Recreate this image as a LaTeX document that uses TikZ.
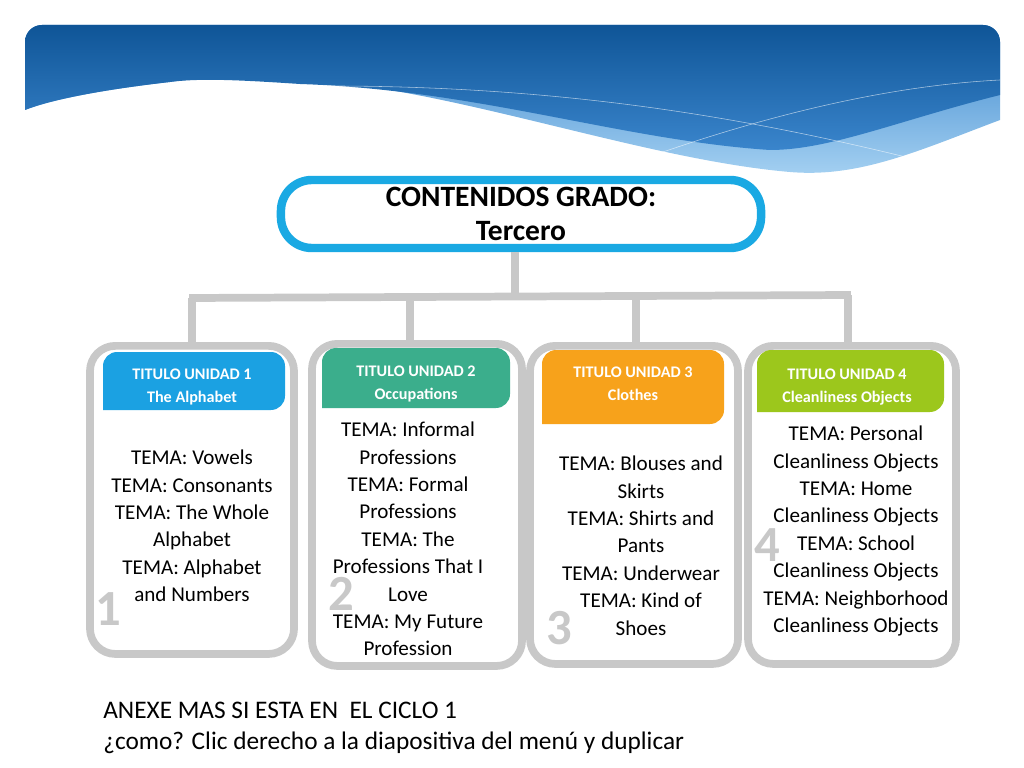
\documentclass[tikz,border=0pt]{standalone}
\usepackage{fontspec}
\setmainfont{Carlito}
\usetikzlibrary{positioning}
\definecolor{cyanline}{HTML}{1AA9E3}
\definecolor{boxgray}{HTML}{C8C8C8}
\definecolor{tabblue}{HTML}{1BA1E2}
\definecolor{tabteal}{HTML}{3BAE8C}
\definecolor{taborange}{HTML}{F7A21B}
\definecolor{tabgreen}{HTML}{9CC71C}
\definecolor{bandark}{HTML}{0F5597}
\definecolor{banmid}{HTML}{3A85CC}
\definecolor{banlight}{HTML}{A6D2F2}
\tikzset{
  unidad/.style={draw=boxgray, line width=5.5pt, rounded corners=18pt, fill=white,
    minimum width=#1, anchor=north},
  tab/.style={text=white, font=\fontsize{11.5}{16}\selectfont\bfseries,
    align=center, anchor=north, inner sep=0pt},
  tema/.style={align=flush center, font=\fontsize{15}{19.5}\selectfont, text width=5.2cm, anchor=north},
  numero/.style={text=boxgray, font=\fontsize{36}{36}\selectfont\bfseries},
  rama/.style={draw=boxgray, line width=5.5pt}
}
\begin{document}
\begin{tikzpicture}[x=0.025cm, y=-0.025cm]
    \useasboundingbox (0,0) rectangle (1024,768);
    % banner
    \begin{scope}
    \clip[rounded corners=12pt] (25,25) rectangle (1000,200);
    \shade[top color=banmid, bottom color=banlight]
        (25,25) -- (1000,25) -- (1000,120) .. controls (920,150) and (860,178) .. (790,172)
        .. controls (650,160) and (470,95) .. (330,82) .. controls (260,76) and (210,76) .. (170,82)
        .. controls (100,90) and (50,100) .. (25,110) -- cycle;
    \shade[top color=bandark, bottom color=banmid]
        (25,25) -- (1000,25) -- (1000,95) .. controls (900,120) and (830,150) .. (770,150)
        .. controls (620,140) and (480,90) .. (300,84) .. controls (240,80) and (200,78) .. (170,82)
        .. controls (100,90) and (50,100) .. (25,110) -- cycle;
    \draw[white, opacity=0.6, thin] (320,86) .. controls (600,85) and (800,130) .. (950,168);
    \draw[white, opacity=0.6, thin] (640,160) .. controls (780,110) and (900,85) .. (1000,80);
    \end{scope}
    % title
    \node[draw=cyanline, line width=6pt, rounded corners=22pt, fill=white, minimum width=12cm,
          minimum height=1.7cm, align=center, font=\fontsize{21}{24}\selectfont\bfseries]
          (titulo) at (521,214) {CONTENIDOS GRADO:\\Tercero};
    % tree
    \coordinate (tronco) at (515,296);
    \coordinate (ramaA) at (192,298);
    \coordinate (ramaB) at (410,297);
    \coordinate (ramaC) at (636,296);
    \coordinate (ramaD) at (848,295);
    \draw[rama] (titulo.south -| tronco) -- (tronco);
    \draw[rama] ([xshift=-2pt]ramaA) -- ([xshift=2pt]ramaD);
    % boxes
    \node[unidad=5.1cm, minimum height=7.7cm] (uno) at (192,342) {};
    \node[unidad=5.25cm, minimum height=8.05cm] (dos) at (417,340) {};
    \node[unidad=5.2cm, minimum height=7.95cm] (tres) at (634,342) {};
    \node[unidad=5.2cm, minimum height=7.95cm] (cuatro) at (852,342) {};
    \foreach \r/\u in {ramaA/uno, ramaB/dos, ramaC/tres, ramaD/cuatro}
        \draw[rama] (\r) -- (\u.north -| \r);
    % tabs
    \fill[tabblue, rounded corners=10pt] (103,410) -- (103,352) -- (285,352) -- (285,410) [sharp corners] -- cycle;
    \fill[tabteal, rounded corners=10pt] (322,408) -- (322,348) -- (510,348) -- (510,408) [sharp corners] -- cycle;
    \fill[taborange, rounded corners=10pt] (542,424) -- (542,350) -- (724,350) -- (724,424) [sharp corners] -- cycle;
    \fill[tabgreen, rounded corners=10pt] (757,412) -- (757,350) -- (944,350) -- (944,412) [sharp corners] -- cycle;
    \node[tab] (tab1) at (192,369) {TITULO UNIDAD 1\\The Alphabet};
    \node[tab] (tab2) at (416,366) {TITULO UNIDAD 2\\Occupations};
    \node[tab] (tab3) at (633,367) {TITULO UNIDAD 3\\Clothes};
    \node[tab] (tab4) at (847,369) {TITULO UNIDAD 4\\Cleanliness Objects};
    % contents
    \node[tema] (tema1) at (192,445) {TEMA: Vowels\\TEMA: Consonants\\TEMA: The Whole\\Alphabet\\TEMA: Alphabet\\and Numbers};
    \node[tema, text width=4.3cm] (tema2) at (408,417) {TEMA: Informal\\Professions\\TEMA: Formal\\Professions\\TEMA: The\\Professions That I\\Love\\TEMA: My Future\\Profession};
    \node[tema] (tema3) at (641,451) {TEMA: Blouses and\\Skirts\\TEMA: Shirts and\\Pants\\TEMA: Underwear\\TEMA: Kind of\\Shoes};
    \node[tema] (tema4) at (856,421) {TEMA: Personal\\Cleanliness Objects\\TEMA: Home\\Cleanliness Objects\\TEMA: School\\Cleanliness Objects\\TEMA: Neighborhood\\Cleanliness Objects};
    % numbers
    \node[numero] (n1) at (108,609) {1};
    \node[numero] (n2) at (341,594) {2};
    \node[numero] (n3) at (559,628) {3};
    \node[numero] (n4) at (767,545) {4};
    % note
    \node[anchor=west, align=left, font=\fontsize{18}{22}\selectfont, inner sep=0pt]
        (nota) at (103,728) {ANEXE MAS SI ESTA EN\ \ EL CICLO 1\\¿como? Clic derecho a la diapositiva del menú y duplicar};
\end{tikzpicture}
\end{document}
